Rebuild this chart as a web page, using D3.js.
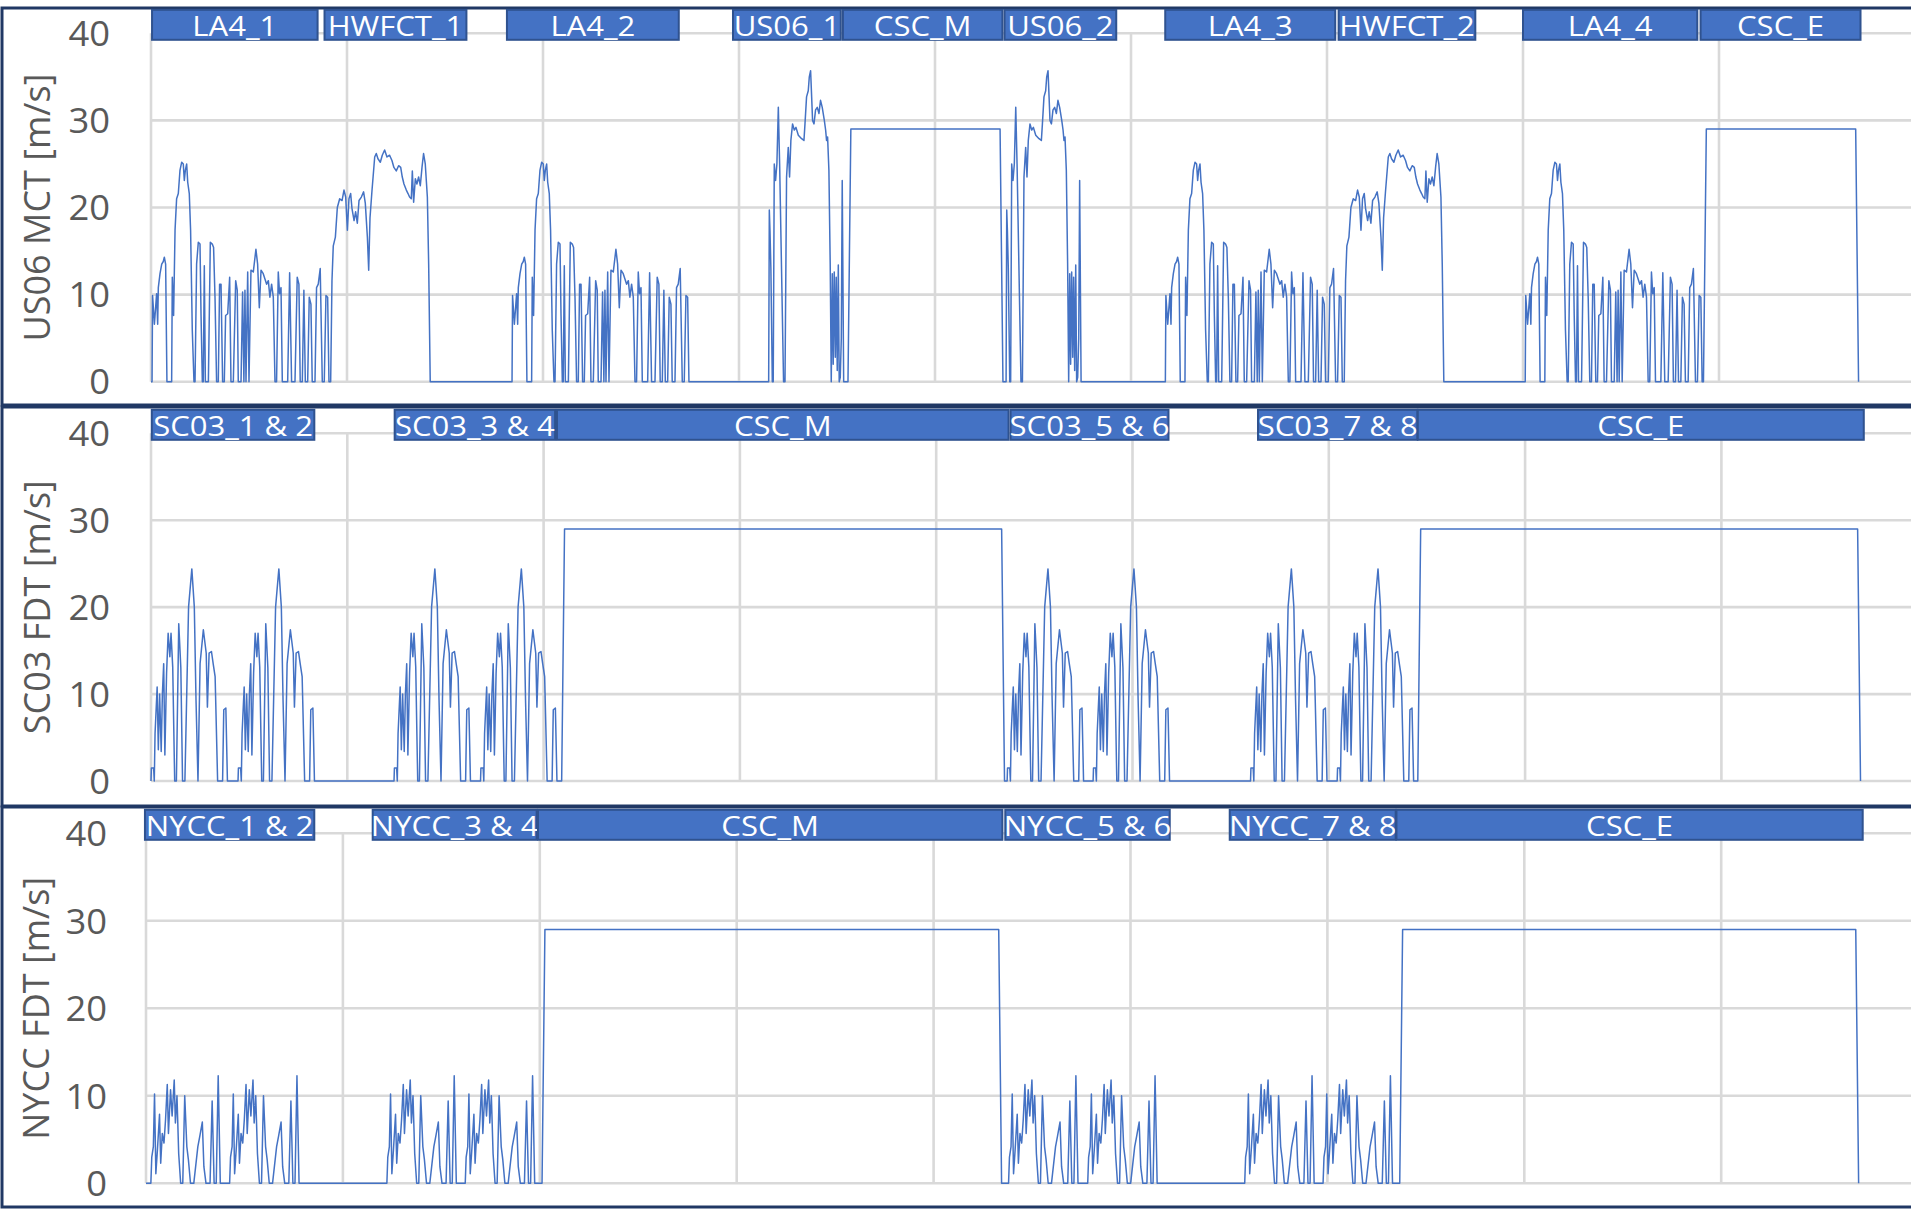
<!DOCTYPE html>
<html>
<head>
<meta charset="utf-8">
<script src="https://cdn.jsdelivr.net/npm/d3@7"></script>
<style>
  html, body { margin: 0; padding: 0; background: #ffffff; }
  svg { display: block; }
</style>
</head>
<body>
<svg id="chart" width="1911" height="1210"></svg>
<script>
// ---- Drive-cycle speed profiles: [time within cycle (s), speed (m/s)] ----
const LA4 = [[0,0],[8,0],[12,9.9],[26,6.6],[43,10.1],[51,6.6],[56,10.8],[69,12.4],[82,13.5],[94,13.8],[102,14.3],[112,13.5],[122,0],
  [158,0],[163,12],[173,7.6],[184,17.4],[196,21],[209,21.6],[222,24.3],[235,25.2],[247,25],[255,23.1],[263,24.3],[273,25],[281,22.9],[293,21.6],[303,17.4],[316,5.9],[329,0],
  [337,0],[349,13.5],[362,16],[375,15.8],[383,7.6],[393,0],[400,0],[408,13.3],[416,0],[439,0],[454,16],[469,15.8],[479,15.4],[490,9.6],[502,0],
  [515,0],[525,11.2],[536,11.2],[548,0],[561,0],[571,7.6],[587,7.8],[602,12],[612,0],[630,0],[648,11.6],[660,10.5],[668,0],
  [689,0],[701,10.3],[711,0],[719,10.5],[727,0],[740,12.6],[750,0],[765,12.8],[783,12.6],[803,15.2],[816,13.5],[829,8.5],[842,12.8],[859,12.4],
  [872,11.8],[885,11.2],[898,11.6],[910,9.7],[923,11.2],[936,9.7],[949,0],[961,0],[974,12.6],[984,10.1],[995,10.8],[1005,0],
  [1046,0],[1061,12.5],[1076,0],[1102,0],[1119,12],[1132,11.2],[1142,0],[1158,0],[1170,10.5],[1181,0],[1199,0],[1211,9.7],[1224,8.9],[1234,0],
  [1255,0],[1267,10.8],[1280,11.2],[1295,13],[1311,0],[1326,0],[1339,9.9],[1352,9.7],[1362,0],[1369,0]];

const HWFCT = [[0,0],[10,11.6],[20,15.6],[36,16.6],[51,20],[69,21],[87,20.8],[102,22],[115,21.2],[128,17.4],[140,21],[153,21.6],[163,19.9],
  [179,18.5],[191,19.5],[204,18.2],[217,20.8],[235,21.2],[252,21.8],[265,20.5],[281,16.6],[291,12.8],[301,18.8],[316,21.9],[337,25.8],
  [349,26.2],[362,25.6],[380,25.2],[395,26],[413,26.6],[431,25.8],[451,26],[469,25.4],[484,24.6],[502,24.2],[520,24.8],[536,24.6],
  [548,23.5],[561,22.7],[579,22],[592,21.6],[604,21.2],[617,21],[625,24.2],[635,20.6],[648,23.3],[660,22.7],[673,23.5],[686,22.5],
  [699,24.6],[711,26.2],[724,25],[740,21.2],[750,13.5],[762,0]];

const US06 = [[0,0],[3,0],[8,19.7],[13,17.4],[20,13],[31,0],[38,0],[46,25],[56,23.1],[66,25],[77,31.5],[87,25],[117,0],[128,0],
  [140,23.5],[153,26.9],[163,23.5],[173,27.7],[186,29.6],[199,28.9],[212,29.2],[230,28.3],[255,27.9],[273,27.7],[281,29.6],
  [293,32.7],[306,33.4],[314,35],[324,35.7],[332,32.7],[339,30],[350,29.6],[362,31.2],[375,31.5],[388,30.8],[400,32.3],[413,31.5],
  [429,30],[439,28.9],[446,27.7],[454,28.1],[464,24.3],[474,13.5],[482,0],[490,12.4],[497,2],[505,12.6],[513,2.8],[520,12],
  [528,1.3],[536,13.4],[543,0],[551,0.5],[559,5],[566,23.1],[577,0],[600,0]];

const SC03 = [[0,0],[3,1.5],[20,1.5],[25,0],[31,5.5],[47,10.8],[56,3.6],[66,10],[78,3.4],[87,10],[97,13.5],[106,3],[119,12.4],
  [131,17],[144,14.3],[153,17],[166,13.1],[181,0],[194,0],[212,18.1],[228,13],[241,0],[259,0],[287,20],[312,24.4],[331,20],
  [344,9.3],[359,0],[375,13.5],[400,17.4],[422,14.7],[431,8.5],[444,14.7],[462,14.9],[475,13.5],[490,12],[509,0],[547,0],
  [556,8.2],[572,8.4],[584,0],[596,0]];

const NYCC = [[0,0],[37,0],[44,3],[56,4.2],[65,10.2],[75,1.1],[87,3.8],[103,7.9],[112,2.3],[124,5.7],[137,4.6],[149,7.3],
  [162,11.3],[171,5.7],[187,10.7],[199,7.7],[215,11.8],[224,6.9],[236,10],[249,3.4],[264,0],[280,0],[295,10],[311,4.2],
  [323,2.7],[339,0],[364,0],[395,4.2],[410,5.4],[429,7],[441,1.9],[457,0],[488,0],[504,9.4],[519,0],[535,0],[550,12.3],
  [566,0],[598,0]];

// Constant-speed cruise level and its ramp time (s)
const CSC_LEVEL = 29;
const CSC_RAMP = 22;

// ---- Test sequences: [cycle, start (s), end (s, cruise only)] ----
const mctPhases = [["LA4",0],["HWFCT",1375],["LA4",2755],["US06",4724],["CSC",5334,6520],["US06",6541],
  ["LA4",7755],["HWFCT",9132],["LA4",10509],["CSC",11881,13068]];
const sc03Phases = [["SC03",0],["SC03",665],["SC03",1857],["SC03",2518],["CSC",3138,6522],["SC03",6542],["SC03",7199],
  ["SC03",8402],["SC03",9064],["CSC",9680,13063]];
const nyccPhases = [["NYCC",0],["NYCC",600],["NYCC",1798],["NYCC",2395],["CSC",3017,6518],["NYCC",6534],["NYCC",7137],
  ["NYCC",8333],["NYCC",8930],["CSC",9551,13047]];

// ---- Segment labels: [text, from (s), to (s)] ----
const mctLabels = [["LA4_1",8,1275],["HWFCT_1",1328,2414],["LA4_2",2724,4039],["US06_1",4454,5279],["CSC_M",5295,6516],
  ["US06_2",6532,7387],["LA4_3",7762,9063],["HWFCT_2",9089,10135],["LA4_4",10500,11834],["CSC_E",11859,13083]];
const sc03Labels = [["SC03_1 & 2",6,1248],["SC03_3 & 4",1862,3088],["CSC_M",3102,6553],["SC03_5 & 6",6568,7775],
  ["SC03_7 & 8",8459,9677],["CSC_E",9680,13088]];
const nyccLabels = [["NYCC_1 & 2",-8,1282],["NYCC_3 & 4",1727,2976],["CSC_M",2986,6524],["NYCC_5 & 6",6546,7799],
  ["NYCC_7 & 8",8256,9520],["CSC_E",9526,13078]];

const panelTitles = ["US06 MCT [m/s]", "SC03 FDT [m/s]", "NYCC FDT [m/s]"];
const yTicks = [0, 10, 20, 30, 40];
const xGridStep = 1500;

// ---- Layout ----
const W = 1911;
const layout = [
  { top: 8,   bottom: 405,  x0: 151, gridPx: 196.0, yZero: 381.7, yTop: 33.3,  tickX: 110, titleX: 37 },
  { top: 407, bottom: 806,  x0: 151, gridPx: 196.3, yZero: 781.0, yTop: 433.3, tickX: 110, titleX: 37 },
  { top: 807, bottom: 1207, x0: 146, gridPx: 196.9, yZero: 1183.3, yTop: 833.3, tickX: 107, titleX: 36 }
];

const COLORS = { line: "#4472C4", box: "#4472C4", boxEdge: "#2F528F", grid: "#D9D9D9", text: "#595959", frame: "#203864" };
const FONT = "'Open Sans', 'DejaVu Sans', sans-serif";
const LABEL_STRETCH = 1.15;  // wide lettering of the segment labels
const TICK_STRETCH = 1.07;

const cycles = { LA4, HWFCT, US06, SC03, NYCC };

function buildSeries(phases) {
  const pts = [];
  phases.forEach(([name, start, end]) => {
    if (name === "CSC") {
      pts.push([start, 0], [start + CSC_RAMP, CSC_LEVEL], [end - CSC_RAMP, CSC_LEVEL], [end, 0]);
    } else {
      cycles[name].forEach(([t, v]) => pts.push([start + t, v]));
    }
  });
  return pts;
}

const panels = [
  { phases: mctPhases, labels: mctLabels },
  { phases: sc03Phases, labels: sc03Labels },
  { phases: nyccPhases, labels: nyccLabels }
];

const svg = d3.select("#chart");
svg.append("rect").attr("width", W).attr("height", 1210).attr("fill", "#fff");

panels.forEach((p, i) => {
  const L = layout[i];
  const g = svg.append("g");

  const x = d3.scaleLinear().domain([0, xGridStep]).range([L.x0, L.x0 + L.gridPx]);
  const y = d3.scaleLinear().domain([0, 40]).range([L.yZero, L.yTop]);

  // panel frame
  g.append("rect")
    .attr("x", 2).attr("y", L.top)
    .attr("width", W + 10).attr("height", L.bottom - L.top)
    .attr("fill", "#fff").attr("stroke", COLORS.frame).attr("stroke-width", 3);

  // gridlines
  const xGrid = d3.range(0, 9.5 * xGridStep, xGridStep);
  g.append("g").selectAll("line").data(xGrid).join("line")
    .attr("x1", d => x(d)).attr("x2", d => x(d))
    .attr("y1", y(40)).attr("y2", y(0))
    .attr("stroke", COLORS.grid).attr("stroke-width", 2.6);
  g.append("g").selectAll("line").data(yTicks).join("line")
    .attr("x1", x(0)).attr("x2", W)
    .attr("y1", d => y(d)).attr("y2", d => y(d))
    .attr("stroke", COLORS.grid).attr("stroke-width", 2.6);

  // y tick labels
  const axis = d3.axisLeft(y).tickValues(yTicks).tickSize(0).tickPadding(0);
  const ag = g.append("g").attr("transform", `translate(${L.tickX},0)`).call(axis);
  ag.select(".domain").remove();
  ag.selectAll("text")
    .attr("x", 0)
    .attr("transform", `scale(${TICK_STRETCH},1)`)
    .attr("fill", COLORS.text).attr("font-family", FONT).attr("font-size", 34)
    .attr("dy", "0.36em");

  // axis title
  g.append("text")
    .attr("transform", `translate(${L.titleX},${(y(0) + y(40)) / 2}) rotate(-90)`)
    .attr("text-anchor", "middle").attr("dy", "0.35em")
    .attr("fill", COLORS.text).attr("font-family", FONT).attr("font-size", 36)
    .text(panelTitles[i]);

  // speed trace
  const series = buildSeries(p.phases);
  g.append("path")
    .datum(series)
    .attr("fill", "none").attr("stroke", COLORS.line).attr("stroke-width", 1.5)
    .attr("stroke-linejoin", "round")
    .attr("d", d3.line().x(d => x(d[0])).y(d => y(d[1])));

  // segment labels
  const boxTop = y(40) - 23.5, boxH = 30;
  const lg = g.append("g").selectAll("g").data(p.labels).join("g");
  lg.append("rect")
    .attr("x", d => x(d[1])).attr("y", boxTop)
    .attr("width", d => x(d[2]) - x(d[1])).attr("height", boxH)
    .attr("fill", COLORS.box).attr("stroke", COLORS.boxEdge).attr("stroke-width", 2);
  lg.append("text")
    .attr("transform", d => `translate(${(x(d[1]) + x(d[2])) / 2},${boxTop + boxH - 4}) scale(${LABEL_STRETCH},1)`)
    .attr("text-anchor", "middle")
    .attr("fill", "#fff").attr("font-family", FONT).attr("font-size", 27)
    .text(d => d[0]);
});
</script>
</body>
</html>
